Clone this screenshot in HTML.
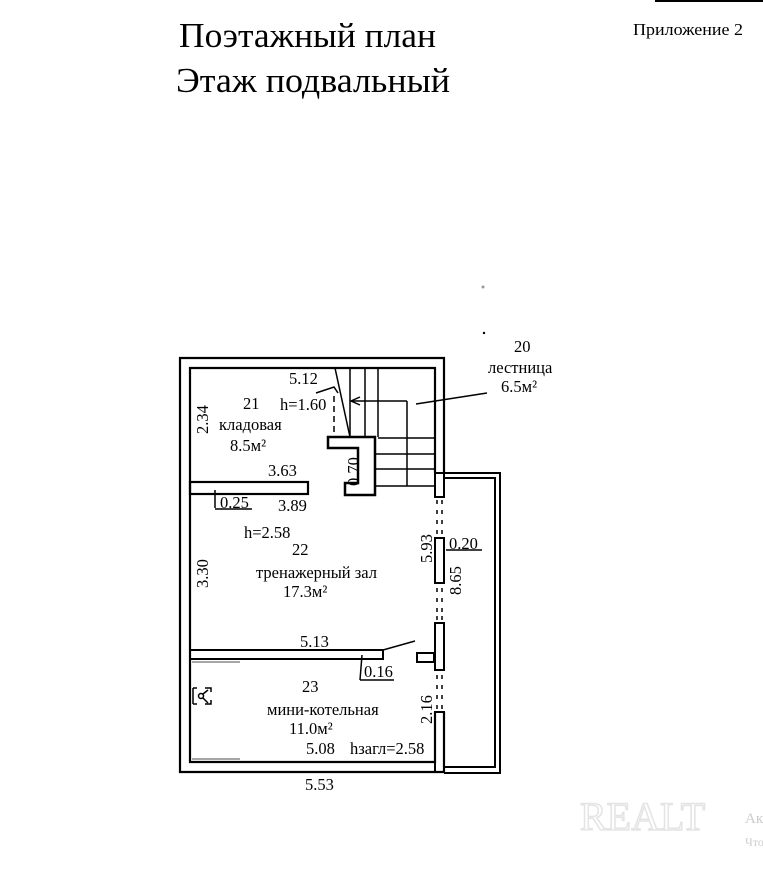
<!DOCTYPE html>
<html><head><meta charset="utf-8"><style>
html,body{margin:0;padding:0;background:#fff;}
svg{display:block;}
text{font-family:"Liberation Serif",serif;fill:#000;}
</style></head><body>
<svg width="763" height="872" viewBox="0 0 763 872" xmlns="http://www.w3.org/2000/svg">
<rect width="763" height="872" fill="#fff"/>
<line x1="655" y1="1" x2="763" y2="1" stroke="#000" stroke-width="2"/>
<text x="179" y="47" font-size="35" textLength="257" lengthAdjust="spacingAndGlyphs">Поэтажный план</text>
<text x="176" y="92" font-size="35" textLength="274" lengthAdjust="spacingAndGlyphs">Этаж  подвальный</text>
<text x="633" y="35" font-size="17" textLength="110" lengthAdjust="spacingAndGlyphs">Приложение 2</text>

<g fill="none" stroke="#000">
<path d="M444 473 V358 H180 V772 H444 V712" stroke-width="2.2"/>
<path d="M435 473 V368 H190 V762 H435 V712" stroke-width="2.2"/>
<rect x="435" y="473" width="9" height="24" stroke-width="2"/>
<rect x="435" y="538" width="9" height="45" stroke-width="2"/>
<rect x="435" y="623" width="9" height="47" stroke-width="2"/>
<rect x="435" y="712" width="9" height="60" stroke-width="2"/>
<g stroke-width="1.5">
<path d="M437 500v4M442 500v4M437 510v4M442 510v4M437 520v4M442 520v4M437 530v4M442 530v4"/>
<path d="M437 588v4M442 588v4M437 598v4M442 598v4M437 608v4M442 608v4M437 616v4M442 616v4"/>
<path d="M437 675v4M442 675v4M437 685v4M442 685v4M437 695v4M442 695v4M437 705v4M442 705v4"/>
</g>
<path d="M444 473 H500 V773 H444" stroke-width="2"/>
<path d="M444 478 H495 V767 H444" stroke-width="2"/>
<rect x="190" y="482" width="118" height="12" stroke-width="2.2"/>
<rect x="190" y="650" width="193" height="9" stroke-width="2"/>
<rect x="417" y="653" width="17" height="9" stroke-width="2"/>
<line x1="383" y1="650" x2="415" y2="641" stroke-width="1.5"/>
<path d="M328 437 H375 V495 H345 V483 H358 V448 H328 Z" stroke-width="2.5"/>
<g stroke-width="1.5">
<line x1="350" y1="368" x2="350" y2="437"/>
<line x1="365" y1="368" x2="365" y2="437"/>
<line x1="378" y1="368" x2="378" y2="437"/>
<line x1="407" y1="401" x2="407" y2="486"/>
<line x1="378" y1="438" x2="435" y2="438"/>
<line x1="375" y1="454" x2="435" y2="454"/>
<line x1="375" y1="469" x2="435" y2="469"/>
<line x1="375" y1="486" x2="435" y2="486"/>
<line x1="407" y1="401" x2="352" y2="401"/>
<path d="M360 397 L351 401 L360 405"/>
<line x1="335" y1="368" x2="350" y2="437"/>
<path d="M316 393 L334 387 L338 393"/>
<line x1="334" y1="396" x2="334" y2="432" stroke-dasharray="6,4"/>
<line x1="416" y1="404" x2="487" y2="393"/>
<line x1="215" y1="490" x2="215" y2="508"/>
<line x1="215" y1="509" x2="252" y2="509"/>
<line x1="362" y1="655" x2="360" y2="680"/>
<line x1="360" y1="680" x2="394" y2="680"/>
<line x1="446" y1="550" x2="482" y2="550"/>
</g>
<g stroke-width="1.5">
<path d="M193 688 H197 M193 688 V704 M193 704 H197 M205 688 H211 V692 M211 700 V704 H205"/>
<circle cx="201" cy="696" r="2.5"/>
<path d="M203 694 L208 690 M203 698 L208 703"/>
<path d="M192 662 H240 M192 759 H240" stroke="#888"/>
</g>
</g>

<g font-size="16.5">
<text x="289" y="384">5.12</text>
<text x="243" y="409">21</text>
<text x="280" y="410">h=1.60</text>
<text x="219" y="430">кладовая</text>
<text x="230" y="451">8.5м²</text>
<text x="268" y="476">3.63</text>
<text x="220" y="508">0.25</text>
<text x="278" y="511">3.89</text>
<text x="244" y="538">h=2.58</text>
<text x="292" y="555">22</text>
<text x="256" y="578">тренажерный зал</text>
<text x="283" y="597">17.3м²</text>
<text x="300" y="647">5.13</text>
<text x="364" y="677">0.16</text>
<text x="302" y="692">23</text>
<text x="267" y="715">мини-котельная</text>
<text x="289" y="734">11.0м²</text>
<text x="306" y="754">5.08</text>
<text x="350" y="754">hзагл=2.58</text>
<text x="305" y="790">5.53</text>
<text x="514" y="352">20</text>
<text x="488" y="373">лестница</text>
<text x="501" y="392">6.5м²</text>
<text x="449" y="549">0.20</text>
<text transform="translate(208,434) rotate(-90)">2.34</text>
<text transform="translate(359,486) rotate(-90)">0.70</text>
<text transform="translate(208,588) rotate(-90)">3.30</text>
<text transform="translate(432,563) rotate(-90)">5.93</text>
<text transform="translate(461,595) rotate(-90)">8.65</text>
<text transform="translate(432,724) rotate(-90)">2.16</text>
</g>
<text x="580" y="830" font-family="Liberation Sans,sans-serif" font-size="40" stroke="#e4e4e4" stroke-width="1.5" style="fill:none">REALT</text>
<text x="745" y="823" font-family="Liberation Sans,sans-serif" font-size="15" style="fill:#ccc">Ак</text>
<text x="745" y="846" font-family="Liberation Sans,sans-serif" font-size="12" style="fill:#ccc">Что</text>
<circle cx="483" cy="287" r="1.5" fill="#999"/>
<circle cx="484" cy="333" r="1.2" fill="#000"/>
</svg>
</body></html>
